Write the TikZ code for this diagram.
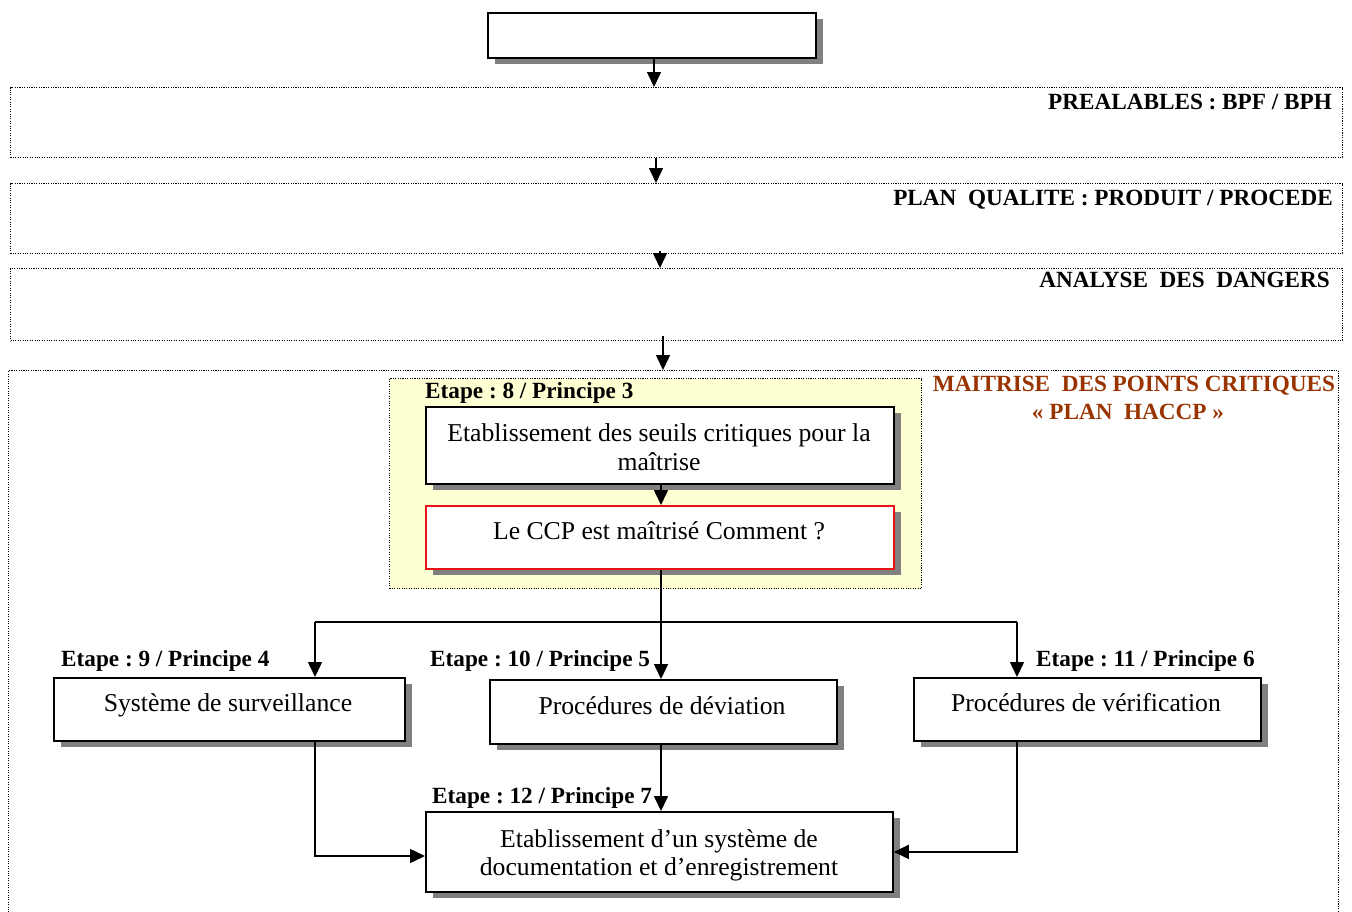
\documentclass[tikz,border=0pt]{standalone}
\usepackage{fontspec}
\setmainfont{Liberation Serif}
\usetikzlibrary{arrows.meta,shadows}
\definecolor{brick}{RGB}{153,51,0}
\definecolor{paleyellow}{RGB}{255,255,212}
\definecolor{shadowgray}{RGB}{128,128,128}
\definecolor{ccpred}{RGB}{230,20,20}
\frenchspacing
\begin{document}
\begin{tikzpicture}[x=1pt,y=-1pt,
  box/.style={draw=black, line width=1.8pt, fill=white, anchor=north west, inner sep=0pt,
    general shadow={fill=shadowgray, shadow xshift=7pt, shadow yshift=-6pt}},
  zone/.style={draw=black, line width=1.1pt, dash pattern=on 1.1pt off 1.3pt, anchor=north west, inner sep=0pt},
  conn/.style={line width=1.5pt, -{Triangle[length=15pt,width=14pt]}},
  wire/.style={line width=1.5pt},
  body/.style={font=\fontsize{25.7}{30}\selectfont, inner sep=0pt, anchor=base},
  steplabel/.style={font=\fontsize{23.2}{27}\selectfont\bfseries, inner sep=0pt},
]
\useasboundingbox (0,0) rectangle (1352,911);
\clip (0,0) rectangle (1352,911);

% dotted zones
\node[zone, minimum width=1332pt, minimum height=70pt] (prereq) at (10,87) {};
\node[zone, minimum width=1332pt, minimum height=70pt] (quality) at (10,183) {};
\node[zone, minimum width=1332pt, minimum height=72pt] (hazard) at (10,268) {};
\node[zone, minimum width=1330pt, minimum height=560pt] (haccp) at (8,370) {};
\node[zone, fill=paleyellow, minimum width=532pt, minimum height=210pt] (limits) at (389,378) {};

% zone titles
\node[steplabel, anchor=base east] (tprereq) at (1332,109) {PREALABLES : BPF / BPH};
\node[steplabel, anchor=base east] (tquality) at (1333,205) {PLAN\ \ QUALITE : PRODUIT / PROCEDE};
\node[steplabel, anchor=base east] (thazard) at (1330,287) {ANALYSE\ \ DES\ \ DANGERS};
\node[steplabel, text=brick, anchor=base] (thaccp) at (1134,391) {MAITRISE\ \ DES POINTS CRITIQUES};
\node[steplabel, text=brick, anchor=base] (thaccpb) at (1128,419) {« PLAN\ \ HACCP »};

% boxes
\node[box, minimum width=328pt, minimum height=45pt] (top) at (487,12) {};
\node[box, minimum width=468pt, minimum height=77pt] (crit) at (425,406) {};
\node[box, draw=ccpred, minimum width=468pt, minimum height=63pt] (ccp) at (425,505) {};
\node[box, minimum width=351pt, minimum height=63pt] (surv) at (53,677) {};
\node[box, minimum width=347pt, minimum height=64pt] (dev) at (489,679) {};
\node[box, minimum width=347pt, minimum height=63pt] (verif) at (913,677) {};
\node[box, minimum width=467pt, minimum height=80pt] (doc) at (425,811) {};

% box texts
\node[body] (tcrit) at (659,441) {Etablissement des seuils critiques pour la};
\node[body] (tcritb) at (659,470) {maîtrise};
\node[body] (tccp) at (659,539) {Le CCP est maîtrisé Comment ?};
\node[body] (tsurv) at (228,711) {Système de surveillance};
\node[body] (tdev) at (662,714) {Procédures de déviation};
\node[body] (tverif) at (1086,711) {Procédures de vérification};
\node[body] (tdoc) at (659,847) {Etablissement d’un système de};
\node[body] (tdocb) at (659,875) {documentation et d’enregistrement};

% step labels
\node[steplabel, anchor=base west] (s8) at (425,398) {Etape : 8 / Principe 3};
\node[steplabel, anchor=base west] (s9) at (61,666) {Etape : 9 / Principe 4};
\node[steplabel, anchor=base west] (s10) at (430,666) {Etape : 10 / Principe 5};
\node[steplabel, anchor=base west] (s11) at (1036,666) {Etape : 11 / Principe 6};
\node[steplabel, anchor=base west] (s12) at (432,803) {Etape : 12 / Principe 7};

% connector positions
\coordinate (x1) at (654,0);
\coordinate (x2) at (656,0);
\coordinate (x3) at (660,0);
\coordinate (x4) at (663,0);
\coordinate (split) at (661,622);
\coordinate (jl) at (315,622);
\coordinate (jr) at (1017,622);
\coordinate (inl) at (0,856);

% connectors
\draw[conn] (x1 |- top.south) -- (x1 |- prereq.north);
\draw[conn] (x2 |- prereq.south) -- (x2 |- quality.north);
\draw[conn] ([yshift=3pt]x3 |- quality.south) -- (x3 |- hazard.north);
\draw[conn] ([yshift=5pt]x4 |- hazard.south) -- (x4 |- haccp.north);
\draw[conn] (split |- crit.south) -- (split |- ccp.north);
\draw[wire] (split |- ccp.south) -- (split);
\draw[wire] (jl) -- (jr);
\draw[conn] (split) -- (split |- dev.north);
\draw[conn] (jl) -- (jl |- surv.north);
\draw[conn] (jr) -- (jr |- verif.north);
\draw[conn] (jl |- surv.south) -- (jl |- inl) -- (doc.west |- inl);
\draw[conn] (split |- dev.south) -- (split |- doc.north);
\draw[conn] (jr |- verif.south) -- (jr |- doc.east) -- (doc.east);
\end{tikzpicture}
\end{document}
